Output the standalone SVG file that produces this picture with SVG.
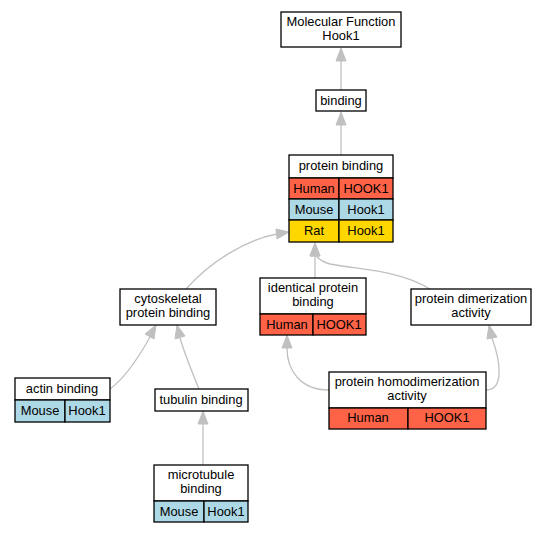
<svg xmlns="http://www.w3.org/2000/svg" width="551" height="533" viewBox="0 0 551 533">
<style>
.b{fill:#fff;stroke:#000;stroke-width:1.3}
.h{fill:#ff6347;stroke:#000;stroke-width:1.3}
.m{fill:#add8e6;stroke:#000;stroke-width:1.3}
.r{fill:#ffd700;stroke:#000;stroke-width:1.3}
text{font-family:"Liberation Sans",Arial,sans-serif;font-size:12.9px;text-anchor:middle;fill:#000}
.e{fill:none;stroke:#c0c0c0;stroke-width:1.3}
.a{fill:#c0c0c0;stroke:#c0c0c0}
</style>
<rect width="551" height="533" fill="#fff"/>
<g id="connectors">
<path class="e" d="M341,90 L341,61"/><polygon class="a" points="341,48 336,61 346,61"/>
<path class="e" d="M341,155 L341,125"/><polygon class="a" points="341,112 336,125 346,125"/>
<path class="e" d="M186,289 C210,262 245,240 277,234"/><polygon class="a" points="289,232 276,229 277,239"/>
<path class="e" d="M315,278 L315,256"/><polygon class="a" points="315,243 310,256 320,256"/>
<path class="e" d="M430,289 C400,270 360,270 330,264 C322,262 318,258 316,256"/><polygon class="a" points="315,243 310,256 320,256"/>
<path class="e" d="M110,389 C125,378 140,355 150,337"/><polygon class="a" points="156,325 145,334 154,339"/>
<path class="e" d="M199,389 C192,372 185,355 180,338"/><polygon class="a" points="177,325 175,339 185,336"/>
<path class="e" d="M203,465 L203,424"/><polygon class="a" points="203,411 198,424 208,424"/>
<path class="e" d="M329,390 C300,390 287,370 287,348"/><polygon class="a" points="287,335 282,348 292,348"/>
<path class="e" d="M486,390 C505,390 500,360 492,338"/><polygon class="a" points="489,325 487,339 497,337"/>
</g>
<g id="mf">
<rect class="b" x="281" y="12" width="120" height="35"/>
<text x="341" y="26">Molecular Function</text>
<text x="341" y="40">Hook1</text>
</g>
<g id="binding">
<rect class="b" x="316" y="90" width="50" height="21"/>
<text x="341" y="105">binding</text>
</g>
<g id="protein_binding">
<rect class="b" x="289" y="155" width="104" height="23"/>
<text x="341" y="170">protein binding</text>
<rect class="h" x="289" y="178" width="50" height="21"/><rect class="h" x="339" y="178" width="54" height="21"/>
<text x="314" y="193">Human</text><text x="366" y="193">HOOK1</text>
<rect class="m" x="289" y="199" width="50" height="21"/><rect class="m" x="339" y="199" width="54" height="21"/>
<text x="314" y="214">Mouse</text><text x="366" y="214">Hook1</text>
<rect class="r" x="289" y="220" width="50" height="22"/><rect class="r" x="339" y="220" width="54" height="22"/>
<text x="314" y="235">Rat</text><text x="366" y="235">Hook1</text>
</g>
<g id="cytoskeletal">
<rect class="b" x="120" y="289" width="96" height="36"/>
<text x="168" y="303">cytoskeletal</text>
<text x="168" y="317">protein binding</text>
</g>
<g id="identical">
<rect class="b" x="260" y="278" width="106" height="36"/>
<text x="313" y="292">identical protein</text>
<text x="313" y="306">binding</text>
<rect class="h" x="260" y="314" width="53" height="21"/><rect class="h" x="313" y="314" width="53" height="21"/>
<text x="287" y="329">Human</text><text x="339" y="329">HOOK1</text>
</g>
<g id="dimerization">
<rect class="b" x="411" y="289" width="120" height="36"/>
<text x="471" y="303">protein dimerization</text>
<text x="471" y="317">activity</text>
</g>
<g id="actin">
<rect class="b" x="15" y="378" width="95" height="22"/>
<text x="62" y="393">actin binding</text>
<rect class="m" x="15" y="400" width="50" height="22"/><rect class="m" x="65" y="400" width="45" height="22"/>
<text x="40" y="415">Mouse</text><text x="87" y="415">Hook1</text>
</g>
<g id="tubulin">
<rect class="b" x="155" y="389" width="93" height="22"/>
<text x="201" y="404">tubulin binding</text>
</g>
<g id="microtubule">
<rect class="b" x="154" y="465" width="94" height="36"/>
<text x="201" y="479">microtubule</text>
<text x="201" y="493">binding</text>
<rect class="m" x="154" y="501" width="50" height="21"/><rect class="m" x="204" y="501" width="44" height="21"/>
<text x="179" y="516">Mouse</text><text x="226" y="516">Hook1</text>
</g>
<g id="homodimerization">
<rect class="b" x="329" y="372" width="157" height="36"/>
<text x="407" y="386">protein homodimerization</text>
<text x="407" y="400">activity</text>
<rect class="h" x="329" y="408" width="79" height="21"/><rect class="h" x="408" y="408" width="78" height="21"/>
<text x="368" y="422">Human</text><text x="447" y="422">HOOK1</text>
</g>
</svg>
